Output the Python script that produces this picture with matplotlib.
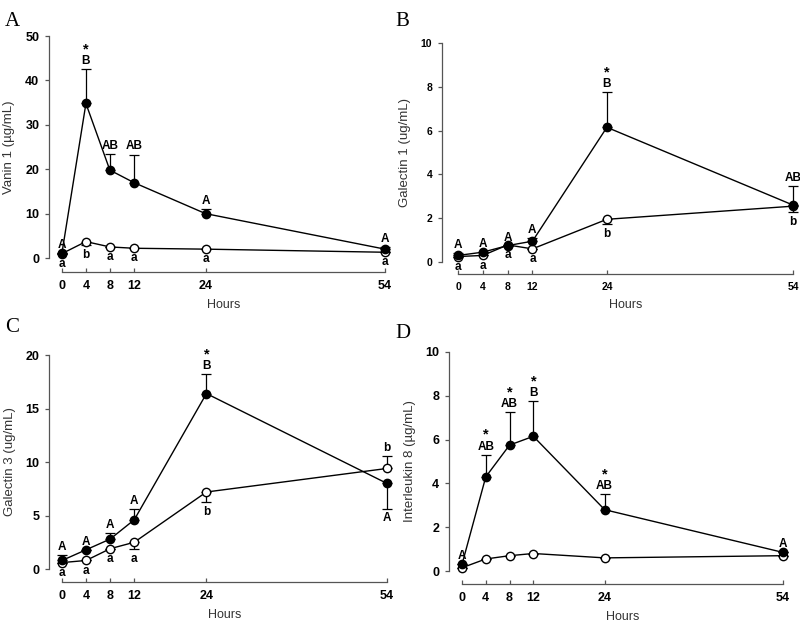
import matplotlib
matplotlib.use("Agg")
import matplotlib.pyplot as plt

plt.rcParams['font.family'] = ['Liberation Sans', 'DejaVu Sans']

hours = [0, 4, 8, 12, 24, 54]

# Vanin 1
a_filled = [1.2, 34.8, 19.8, 17.0, 10.0, 2.0]
a_filled_err = [0.0, 7.7, 3.6, 6.3, 1.0, 0.4]
a_open = [1.0, 3.7, 2.5, 2.2, 2.0, 1.3]
a_open_err = [0.0, -0.8, 0.0, 0.0, 0.0, 0.0]
a_filled_lab = ['A', 'B', 'AB', 'AB', 'A', 'A']
a_open_lab = ['a', 'b', 'a', 'a', 'a', 'a']
a_star = [0, 1, 0, 0, 0, 0]

# Galectin 1
b_filled = [0.3, 0.45, 0.75, 0.95, 6.15, 2.6]
b_filled_err = [0.12, 0.0, 0.0, 0.15, 1.6, 0.85]
b_open = [0.25, 0.3, 0.78, 0.6, 1.95, 2.55]
b_open_err = [0.0, 0.0, 0.0, 0.0, -0.2, -0.25]
b_filled_lab = ['A', 'A', 'A', 'A', 'B', 'AB']
b_open_lab = ['a', 'a', 'a', 'a', 'b', 'b']
b_star = [0, 0, 0, 0, 1, 0]

# Galectin 3
c_filled = [0.8, 1.8, 2.8, 4.6, 16.4, 8.0]
c_filled_err = [0.5, 0.0, 0.6, 1.0, 1.8, -2.4]
c_open = [0.6, 0.8, 1.9, 2.5, 7.2, 9.4]
c_open_err = [0.0, 0.0, 0.0, -0.6, -0.9, 1.2]
c_filled_lab = ['A', 'A', 'A', 'A', 'B', 'A']
c_open_lab = ['a', 'a', 'a', 'a', 'b', 'b']
c_star = [0, 0, 0, 0, 1, 0]

# Interleukin 8
d_filled = [0.3, 4.3, 5.75, 6.15, 2.8, 0.85]
d_filled_err = [0.0, 1.0, 1.5, 1.6, 0.7, 0.0]
d_open = [0.15, 0.55, 0.7, 0.8, 0.6, 0.7]
d_open_err = [0.0, 0.0, 0.0, 0.0, 0.0, 0.0]
d_filled_lab = ['A', 'AB', 'AB', 'B', 'AB', 'A']
d_open_lab = ['', '', '', '', '', '']
d_star = [0, 1, 1, 1, 1, 0]

PX = 0.72  # points per pixel at dpi 100


def draw(ax, filled, ferr, opn, oerr, flab, olab, star, ymax, ystep, ylabel,
         xoff, yoff, tfs, tweight='bold'):
    # open series drawn first, filled on top
    for vals, errs, face, z in [(opn, oerr, 'white', 3), (filled, ferr, 'black', 4)]:
        lo = [-e if e < 0 else 0 for e in errs]
        hi = [e if e > 0 else 0 for e in errs]
        ax.errorbar(hours, vals, yerr=[lo, hi], fmt='none', ecolor='black',
                    elinewidth=0.9, capsize=3.5, capthick=0.9, zorder=z, clip_on=False)
        ax.plot(hours, vals, '-o', color='black', lw=1, mfc=face, mec='black',
                ms=6, mew=1, zorder=z, clip_on=False)

    for x, v, e, lab, s in zip(hours, filled, ferr, flab, star):
        if lab == '':
            continue
        if e < 0:
            ax.annotate(lab, (x, v + e), xytext=(0, -2), textcoords='offset points',
                        ha='center', va='top', fontsize=8.5, fontweight='bold')
        else:
            ax.annotate(lab, (x, v + e), xytext=(0, 1.5), textcoords='offset points',
                        ha='center', va='bottom', fontsize=8.5, fontweight='bold')
            if s:
                ax.annotate('*', (x, v + e), xytext=(0, 9.5), textcoords='offset points',
                            ha='center', va='bottom', fontsize=10.5, fontweight='bold')
    for x, v, e, lab in zip(hours, opn, oerr, olab):
        if lab == '':
            continue
        if e > 0:
            ax.annotate(lab, (x, v + e), xytext=(0, 1.5), textcoords='offset points',
                        ha='center', va='bottom', fontsize=8.5, fontweight='bold')
        else:
            ax.annotate(lab, (x, v + e), xytext=(0, -3), textcoords='offset points',
                        ha='center', va='top', fontsize=8.5, fontweight='bold')

    ax.set_xlim(0, 54)
    ax.set_ylim(0, ymax)
    ax.set_xticks(hours)
    ax.set_yticks(range(0, ymax + 1, ystep))
    ax.spines['top'].set_visible(False)
    ax.spines['right'].set_visible(False)
    ax.spines['left'].set_position(('outward', xoff * PX))
    ax.spines['bottom'].set_position(('outward', yoff * PX))
    ax.spines['left'].set_bounds(0, ymax)
    ax.spines['bottom'].set_bounds(0, 54)
    for sp in ['left', 'bottom']:
        ax.spines[sp].set_linewidth(0.9)
        ax.spines[sp].set_color('#555555')
    ax.tick_params(axis='y', direction='out', length=3, width=0.9, pad=4,
                   color='#555555')
    ax.tick_params(axis='x', direction='in', length=3, width=0.9, pad=6,
                   color='#555555')
    for t in ax.get_xticklabels() + ax.get_yticklabels():
        t.set_fontsize(tfs)
        t.set_fontweight(tweight)
    ax.set_ylabel(ylabel, fontsize=9.5, color='#333333', labelpad=7)
    ax.set_xlabel('Hours', fontsize=9, color='#333333', labelpad=5)
    ax.patch.set_visible(False)


fig = plt.figure(figsize=(8, 6.24), dpi=100)

axA = fig.add_axes([0.0775, 0.5865, 0.40375, 0.3558])
draw(axA, a_filled, a_filled_err, a_open, a_open_err, a_filled_lab, a_open_lab,
     a_star, 50, 10, 'Vanin 1 (µg/mL)', 13, 14, 9)

axB = fig.add_axes([0.5725, 0.5801, 0.41875, 0.3510])
draw(axB, b_filled, b_filled_err, b_open, b_open_err, b_filled_lab, b_open_lab,
     b_star, 10, 2, 'Galectin 1 (ug/mL)', 16, 12, 7.5, 'semibold')

axC = fig.add_axes([0.0775, 0.0881, 0.40625, 0.3429])
draw(axC, c_filled, c_filled_err, c_open, c_open_err, c_filled_lab, c_open_lab,
     c_star, 20, 5, 'Galectin 3 (ug/mL)', 13, 13, 9)

axD = fig.add_axes([0.5775, 0.0849, 0.40125, 0.351])
draw(axD, d_filled, d_filled_err, d_open, d_open_err, d_filled_lab, d_open_lab,
     d_star, 10, 2, 'Interleukin 8 (µg/mL)', 13, 13, 9)

for lab, x, y in [('A', 5, 22), ('B', 395, 22), ('C', 5, 327), ('D', 395, 333)]:
    fig.text(x / 800, 1 - y / 624, lab, fontsize=15, family='Liberation Serif',
             ha='left', va='center')

fig.savefig('out.png', dpi=100)
